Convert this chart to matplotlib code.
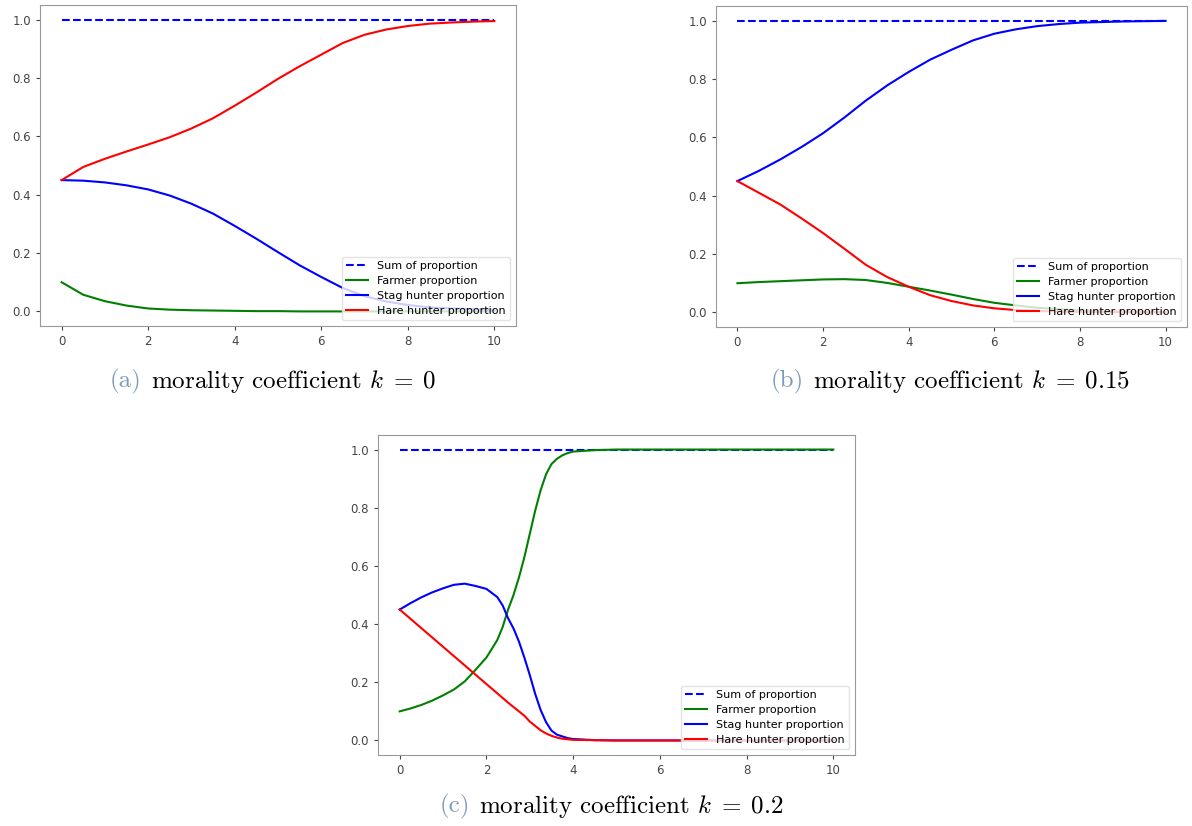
import matplotlib
matplotlib.use("Agg")
import matplotlib.pyplot as plt

plt.rcParams['mathtext.fontset'] = 'cm'

# (a) k = 0
t_a = [0, 0.5, 1, 1.5, 2, 2.5, 3, 3.5, 4, 4.5, 5, 5.5, 6, 6.5, 7, 7.5, 8, 8.5, 9, 9.5, 10]
farmer_a = [0.10, 0.057, 0.035, 0.02, 0.01, 0.006, 0.004, 0.003, 0.002, 0.001, 0.001, 0.0, 0.0,
            0.0, 0.0, 0.0, 0.0, 0.0, 0.0, 0.0, 0.0]
stag_a = [0.45, 0.448, 0.442, 0.432, 0.418, 0.397, 0.369, 0.335, 0.293, 0.249, 0.203, 0.158, 0.118,
          0.08, 0.052, 0.034, 0.022, 0.014, 0.01, 0.007, 0.005]
hare_a = [0.45, 0.495, 0.523, 0.548, 0.572, 0.597, 0.627, 0.662, 0.705, 0.75, 0.797, 0.84, 0.88,
          0.92, 0.948, 0.966, 0.978, 0.986, 0.99, 0.993, 0.995]

# (b) k = 0.15
t_b = [0, 0.5, 1, 1.5, 2, 2.5, 3, 3.5, 4, 4.5, 5, 5.5, 6, 6.5, 7, 7.5, 8, 8.5, 9, 9.5, 10]
farmer_b = [0.10, 0.104, 0.107, 0.11, 0.113, 0.114, 0.111, 0.101, 0.088, 0.075, 0.061, 0.046, 0.033,
            0.024, 0.016, 0.011, 0.007, 0.004, 0.003, 0.002, 0.001]
stag_b = [0.45, 0.485, 0.524, 0.567, 0.614, 0.668, 0.726, 0.778, 0.824, 0.866, 0.90, 0.932, 0.955,
          0.97, 0.981, 0.988, 0.993, 0.995, 0.997, 0.998, 0.999]
hare_b = [0.45, 0.41, 0.37, 0.322, 0.272, 0.218, 0.163, 0.121, 0.088, 0.059, 0.039, 0.024, 0.014,
          0.008, 0.005, 0.003, 0.002, 0.001, 0.001, 0.0, 0.0]

# (c) k = 0.2
t_c = [0, 0.25, 0.5, 0.75, 1, 1.25, 1.5, 1.75, 2, 2.25, 2.375, 2.5, 2.625, 2.75, 2.875, 3,
       3.125, 3.25, 3.375, 3.5, 3.625, 3.75, 3.875, 4, 4.5, 5, 6, 7, 8, 9, 10]
farmer_c = [0.10, 0.11, 0.122, 0.137, 0.155, 0.175, 0.203, 0.243, 0.285, 0.345, 0.39, 0.45, 0.50,
            0.56, 0.63, 0.71, 0.79, 0.86, 0.915, 0.95, 0.968, 0.98, 0.988, 0.993, 0.998, 1.0,
            1.0, 1.0, 1.0, 1.0, 1.0]
stag_c = [0.45, 0.472, 0.492, 0.509, 0.523, 0.535, 0.539, 0.531, 0.521, 0.493, 0.464, 0.42, 0.385,
          0.34, 0.285, 0.225, 0.16, 0.105, 0.063, 0.034, 0.02, 0.014, 0.008, 0.005, 0.001, 0.0,
          0.0, 0.0, 0.0, 0.0, 0.0]
hare_c = [0.45, 0.418, 0.386, 0.354, 0.322, 0.29, 0.258, 0.226, 0.194, 0.162, 0.146, 0.13, 0.115,
          0.10, 0.085, 0.065, 0.05, 0.035, 0.024, 0.016, 0.01, 0.006, 0.004, 0.002, 0.001, 0.0,
          0.0, 0.0, 0.0, 0.0, 0.0]

panels = [
    (t_a, farmer_a, stag_a, hare_a, [40, 5, 516, 326], "(a)", r"morality coefficient $k\;=\;0$", (273, 381)),
    (t_b, farmer_b, stag_b, hare_b, [716, 6, 1187, 327], "(b)", r"morality coefficient $k\;=\;0.15$", (950, 381)),
    (t_c, farmer_c, stag_c, hare_c, [378, 435, 855, 755], "(c)", r"morality coefficient $k\;=\;0.2$", (612, 806)),
]

W, H = 1192, 826
fig = plt.figure(figsize=(W / 100, H / 100), dpi=100)

caps = []
for t, farmer, stag, hare, box, tag, cap, cpos in panels:
    x0, y0, x1, y1 = box
    ax = fig.add_axes([x0 / W, 1 - y1 / H, (x1 - x0) / W, (y1 - y0) / H])
    total = [f + s + h for f, s, h in zip(farmer, stag, hare)]
    ax.plot(t, [round(v) for v in total], '--', color='blue', lw=1.5, label='Sum of proportion')
    ax.plot(t, farmer, color='green', lw=1.5, label='Farmer proportion')
    ax.plot(t, stag, color='blue', lw=1.5, label='Stag hunter proportion')
    ax.plot(t, hare, color='red', lw=1.5, label='Hare hunter proportion')
    ax.set_xticks([0, 2, 4, 6, 8, 10])
    ax.set_yticks([0.0, 0.2, 0.4, 0.6, 0.8, 1.0])
    ax.set_xlim(-0.5, 10.5)
    ax.set_ylim(-0.05, 1.05)
    ax.tick_params(labelsize=8.5, colors='#444444', length=3)
    for sp in ax.spines.values():
        sp.set_color('#999999')
    ax.legend(loc='lower right', fontsize=8, frameon=True, framealpha=0.8, edgecolor='#dddddd',
              handlelength=2.0, borderpad=0.4, labelspacing=0.45)
    caps.append((tag, cap, cpos))

# captions: grey-blue tag plus black text, centered together
fig.canvas.draw()
r = fig.canvas.get_renderer()
for tag, cap, (cx, cy) in caps:
    t1 = fig.text(0, 0, tag, fontsize=18, family='cmr10', color='#7a9cbb')
    t2 = fig.text(0, 0, cap, fontsize=18, family='cmr10', color='black')
    w1 = t1.get_window_extent(r).width
    w2 = t2.get_window_extent(r).width
    gap = 9
    left = cx - (w1 + gap + w2) / 2
    t1.set_position((left / W, 1 - cy / H))
    t2.set_position(((left + w1 + gap) / W, 1 - cy / H))
    t1.set_va('center')
    t2.set_va('center')

fig.savefig('out.png', dpi=100)
